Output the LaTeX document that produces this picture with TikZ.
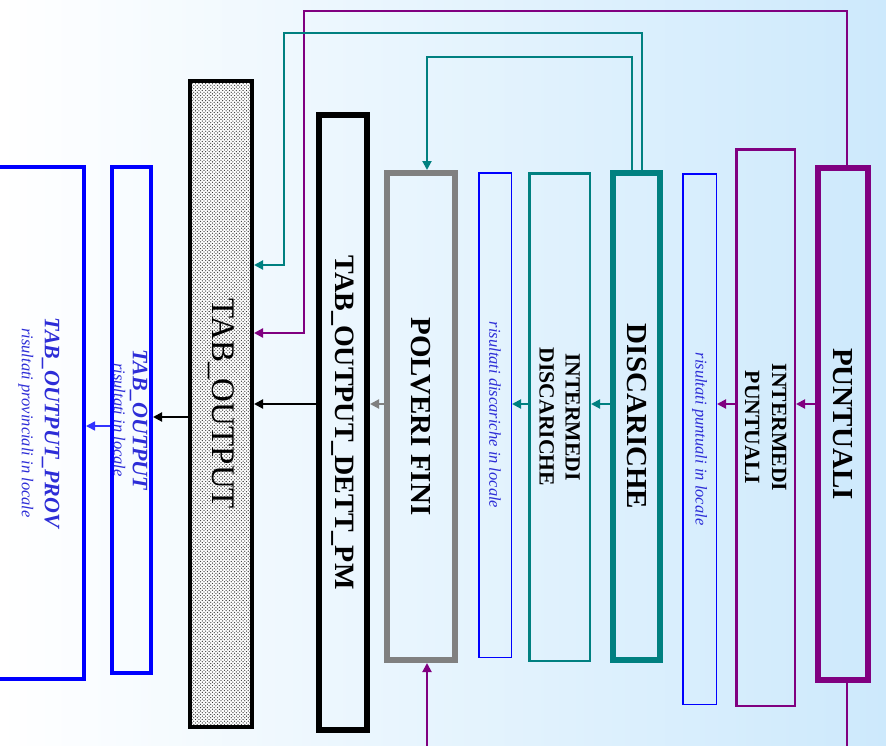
\documentclass[tikz,border=0pt]{standalone}
\usepackage{fontspec}
\setmainfont{Liberation Serif}
\usetikzlibrary{shapes}
\usetikzlibrary{backgrounds}
\usetikzlibrary{calc,patterns,arrows.meta}
\definecolor{tealc}{RGB}{0,128,128}
\definecolor{purp}{RGB}{128,0,128}
\definecolor{bluetxt}{RGB}{45,45,215}
\definecolor{bgright}{RGB}{205,233,252}
\pgfdeclarepatternformonly{tabdots}{\pgfqpoint{-1pt}{-1pt}}{\pgfqpoint{4pt}{4pt}}{\pgfqpoint{3.4pt}{3.4pt}}{%
	\pgfpathcircle{\pgfqpoint{0pt}{0pt}}{0.65pt}
	\pgfpathcircle{\pgfqpoint{1.7pt}{1.7pt}}{0.65pt}
	\pgfusepath{fill}}
\begin{document}
\begin{tikzpicture}[x=1pt,y=-1pt,
	box/.style={draw,inner sep=0pt},
	tip/.style={-{Triangle[length=9pt,width=9pt]}},
	lab/.style={rotate=-90,align=center,font=\bfseries\fontsize{29}{34}\selectfont},
	sub/.style={rotate=-90,align=center,text=bluetxt,font=\itshape\fontsize{16.5}{23}\selectfont}]
\useasboundingbox (0,0) rectangle (886,745);
\clip (0,0) rectangle (886,745);
\shade[left color=white,right color=bgright] (0,0) rectangle (886,745);
% boxes, left to right
\node[box,blue,line width=4pt] (prov) at (39,423) [minimum width=90pt,minimum height=512pt] {};
\node[box,blue,line width=4pt] (tabloc) at (131.5,420) [minimum width=39pt,minimum height=506pt] {};
\node[box,line width=4pt,preaction={fill=white},pattern=tabdots,pattern color=black!80] (tabout) at (221,404) [minimum width=62pt,minimum height=646pt] {};
\node[box,line width=6pt] (dett) at (343,422.5) [minimum width=48pt,minimum height=615pt] {};
\node[box,gray,line width=6pt] (polv) at (421,416.5) [minimum width=68pt,minimum height=487pt] {};
\node[box,blue,line width=1.5pt] (risdisc) at (495,415) [minimum width=32.5pt,minimum height=484.5pt] {};
\node[box,tealc,line width=2.5pt] (intdisc) at (559.5,417) [minimum width=60.5pt,minimum height=487.5pt] {};
\node[box,tealc,line width=6pt] (disc) at (636.5,416.5) [minimum width=47pt,minimum height=487pt] {};
\node[box,blue,line width=1.5pt] (rispunt) at (699.5,439) [minimum width=33.5pt,minimum height=530.5pt] {};
\node[box,purp,line width=2.5pt] (intpunt) at (765.5,427.5) [minimum width=58.5pt,minimum height=556.5pt] {};
\node[box,purp,line width=6pt] (punt) at (843,424) [minimum width=50pt,minimum height=512pt] {};
% labels
\node[sub] at (prov) {{\bfseries\fontsize{22}{23}\selectfont TAB\_OUTPUT\_PROV}\\risultati provinciali in locale};
\node[sub,font=\itshape\fontsize{16.5}{19}\selectfont] at ($(tabloc)+(-1,0)$) {{\bfseries\fontsize{22}{19}\selectfont TAB\_OUTPUT}\\risultati in locale};
\node[lab,font=\fontsize{33}{38}\selectfont] at (tabout) {TAB\_OUTPUT};
\node[lab,font=\bfseries\fontsize{28}{32}\selectfont] at (dett) {TAB\_OUTPUT\_DETT\_PM};
\node[lab] at (polv) {POLVERI FINI};
\node[sub] at (risdisc) {risultati discariche in locale};
\node[lab,font=\bfseries\fontsize{21.7}{26}\selectfont] at (intdisc) {INTERMEDI\\DISCARICHE};
\node[lab] at (disc) {DISCARICHE};
\node[sub] at (rispunt) {risultati puntuali in locale};
\node[lab,font=\bfseries\fontsize{21.7}{27}\selectfont] at (intpunt) {INTERMEDI\\PUNTUALI};
\node[lab] at (punt) {PUNTUALI};
% connectors
\coordinate (mid) at (0,404);
\draw[tip,purp,line width=2pt] (punt.west |- mid) -- (intpunt.east |- mid);
\draw[tip,purp,line width=2pt] (intpunt.west |- mid) -- (rispunt.east |- mid);
\draw[tip,tealc,line width=2pt] (disc.west |- mid) -- (intdisc.east |- mid);
\draw[tip,tealc,line width=2pt] (intdisc.west |- mid) -- (risdisc.east |- mid);
\draw[tip,gray,line width=2pt] (polv.west |- mid) -- (dett.east |- mid);
\draw[tip,line width=2pt] (dett.west |- mid) -- (tabout.east |- mid);
\draw[tip,line width=2pt] (tabout.west |- 0,417) -- (tabloc.east |- 0,417);
\draw[tip,blue!80,line width=1.5pt] (tabloc.west |- 0,426) -- (prov.east |- 0,426);
\coordinate (ptop) at (304,11);
\coordinate (touter) at (284,33);
\coordinate (tinner) at (427,57);
\coordinate (pbot) at (847,770);
\draw[tip,purp,line width=2.5pt] ($(punt.north)+(4,0)$) |- (ptop) |- (tabout.east |- 0,333);
\draw[tip,tealc,line width=2pt] ($(disc.north)+(5.5,0)$) |- (touter) |- (tabout.east |- 0,265);
\draw[tip,tealc,line width=2pt] ($(disc.north)+(-4.5,0)$) |- (tinner) -- (tinner |- polv.north);
\draw[tip,purp,line width=2pt] (punt.south -| pbot) -- (pbot) -| ($(polv.south)+(6,0)$);
\end{tikzpicture}
\end{document}
